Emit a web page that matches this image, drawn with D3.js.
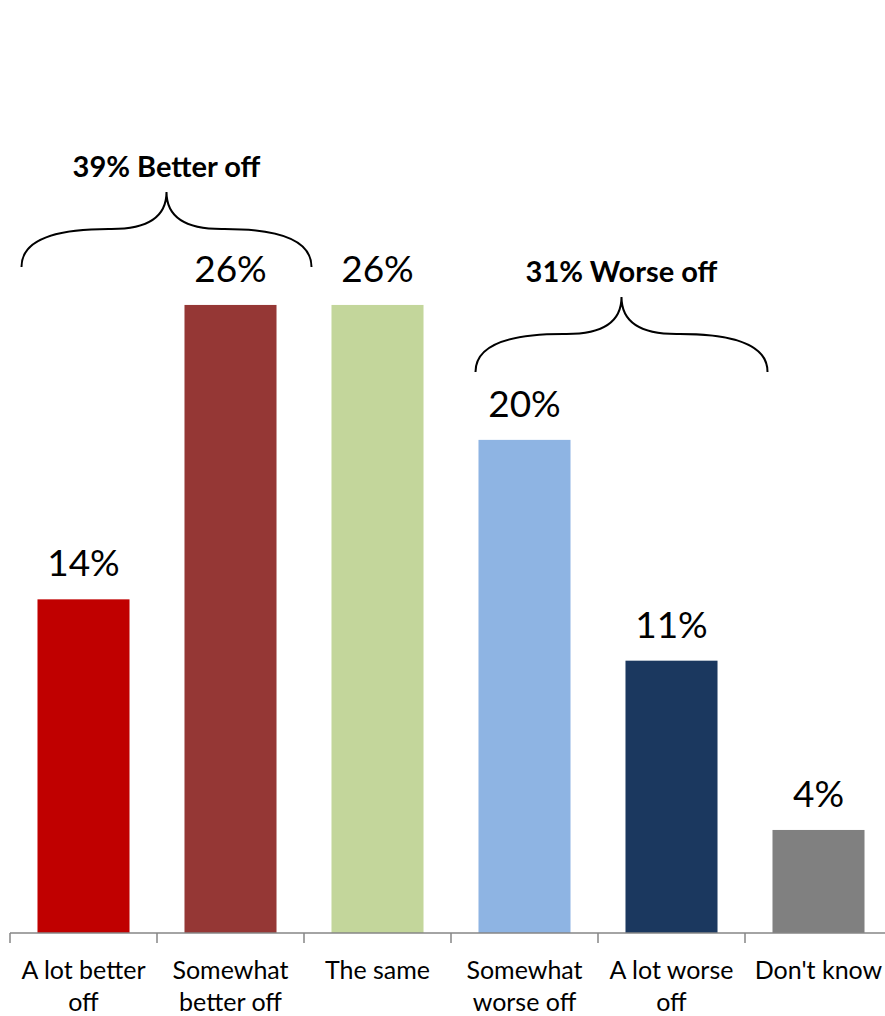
<!DOCTYPE html>
<html>
<head>
<meta charset="utf-8">
<script src="https://cdn.jsdelivr.net/npm/d3@7"></script>
<style>
  body { margin: 0; background: #fff; }
  text { font-family: Lato, "Open Sans", sans-serif; fill: #000; }
</style>
</head>
<body>
<div id="svgdiv"></div>
<script>
// data
var categories = ["A lot better off", "Somewhat better off", "The same", "Somewhat worse off", "A lot worse off", "Don't know"];
var catLines = [["A lot better", "off"], ["Somewhat", "better off"], ["The same"], ["Somewhat", "worse off"], ["A lot worse", "off"], ["Don't know"]];
var values = [13.6, 25.6, 25.6, 20.1, 11.1, 4.2];
var valueLabels = ["14%", "26%", "26%", "20%", "11%", "4%"];
var colors = ["#C00000", "#953735", "#C3D69B", "#8EB4E3", "#1B385F", "#808080"];
var groupLabels = ["39% Better off", "31% Worse off"];

var width = 885, height = 1016;

let svg = d3.select("#svgdiv").append("svg")
    .attr("width", width)
    .attr("height", height);

var x = d3.scaleBand()
    .domain(categories)
    .range([10, 892])
    .paddingInner(0.374)
    .paddingOuter(0.187);

var y = d3.scaleLinear()
    .domain([0, 30])
    .range([933, 197]);

// bars
svg.selectAll("rect.bar")
   .data(values)
   .enter().append("rect")
   .attr("class", "bar")
   .attr("x", (d, i) => x(categories[i]))
   .attr("y", d => y(d))
   .attr("width", x.bandwidth())
   .attr("height", d => y(0) - y(d))
   .style("fill", (d, i) => colors[i]);

// value labels
svg.selectAll("text.val")
   .data(values)
   .enter().append("text")
   .attr("class", "val")
   .attr("x", (d, i) => x(categories[i]) + x.bandwidth() / 2)
   .attr("y", d => y(d) - 23)
   .attr("text-anchor", "middle")
   .style("font-size", "37px")
   .text((d, i) => valueLabels[i]);

// axis line and ticks at band edges
var step = x.step();
var start = x.range()[0];
svg.append("line")
   .attr("x1", start).attr("x2", x.range()[1])
   .attr("y1", y(0)).attr("y2", y(0))
   .style("stroke", "#868686").style("stroke-width", 1.5);

for (let i = 0; i <= categories.length; ++i) {
    svg.append("line")
       .attr("x1", start + i * step).attr("x2", start + i * step)
       .attr("y1", y(0)).attr("y2", y(0) + 10)
       .style("stroke", "#868686").style("stroke-width", 1.5);
}

// category labels
catLines.forEach(function(lines, i) {
    let t = svg.append("text")
       .attr("text-anchor", "middle")
       .style("font-size", "25px");
    lines.forEach(function(l, j) {
        t.append("tspan")
         .attr("x", start + (i + 0.5) * step)
         .attr("y", y(0) + 46 + j * 32)
         .text(l);
    });
});

// braces
function brace(x0, x1, yb) {
    let xc = (x0 + x1) / 2;
    let ym = yb - 38, yt = yb - 75;
    let a = (xc - x0) * 0.6;
    return "M" + x0 + "," + yb +
           " Q" + x0 + "," + ym + " " + (x0 + a) + "," + ym +
           " L" + (xc - 55) + "," + ym +
           " Q" + xc + "," + ym + " " + xc + "," + yt +
           " Q" + xc + "," + ym + " " + (xc + 55) + "," + ym +
           " L" + (x1 - a) + "," + ym +
           " Q" + x1 + "," + ym + " " + x1 + "," + yb;
}

var b1x0 = x(categories[0]) - 16, b1x1 = x(categories[1]) + x.bandwidth() + 35, b1y = y(values[1]) - 38;
var b2x0 = x(categories[3]) - 3, b2x1 = x(categories[4]) + x.bandwidth() + 50, b2y = y(values[3]) - 68;

[[b1x0, b1x1, b1y], [b2x0, b2x1, b2y]].forEach(function(b, i) {
    svg.append("path")
       .attr("d", brace(b[0], b[1], b[2]))
       .style("fill", "none")
       .style("stroke", "#000")
       .style("stroke-width", 2);
    svg.append("text")
       .attr("x", (b[0] + b[1]) / 2)
       .attr("y", b[2] - 90)
       .attr("text-anchor", "middle")
       .style("font-size", "29px")
       .style("font-weight", "bold")
       .text(groupLabels[i]);
});
</script>
</body>
</html>
